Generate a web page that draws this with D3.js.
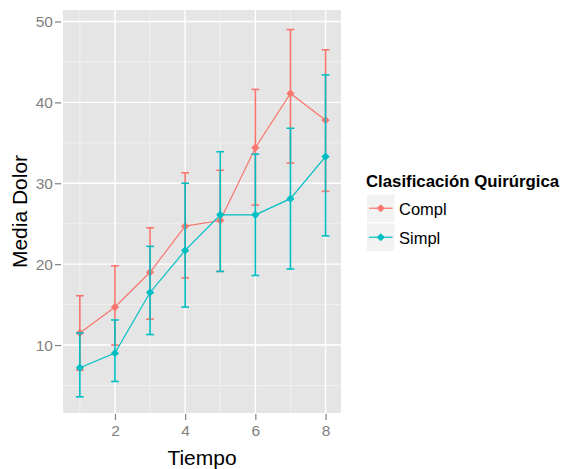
<!DOCTYPE html>
<html>
<head>
<meta charset="utf-8">
<script src="https://cdn.jsdelivr.net/npm/d3@7"></script>
<style>
  body { margin: 0; background: #fff; }
  svg { display: block; font-family: "Liberation Sans", Arial, sans-serif; }
</style>
</head>
<body>
<svg id="chart" width="564" height="469"></svg>
<script>
// Mean pain score over time by surgical classification, with error bars
const tiempo = [1, 2, 3, 4, 5, 6, 7, 8];
const groups = ["Compl", "Simpl"];
const complMean  = [11.5, 14.7, 19.0, 24.7, 25.4, 34.4, 41.1, 37.8];
const complLow   = [6.9, 10.0, 13.2, 18.3, 19.1, 27.3, 32.5, 29.0];
const complHigh  = [16.1, 19.8, 24.5, 31.3, 31.6, 41.6, 49.0, 46.5];
const simplMean  = [7.2, 9.0, 16.5, 21.7, 26.1, 26.1, 28.1, 33.3];
const simplLow   = [3.6, 5.5, 11.3, 14.7, 19.1, 18.6, 19.4, 23.5];
const simplHigh  = [11.5, 13.1, 22.2, 30.0, 33.9, 33.6, 36.8, 43.4];
const xTicks = [2, 4, 6, 8];
const yTicks = [10, 20, 30, 40, 50];
const colors = ["#F8766D", "#00BFC4"];

const series = [
  { name: groups[0], color: colors[0], mean: complMean, low: complLow, high: complHigh },
  { name: groups[1], color: colors[1], mean: simplMean, low: simplLow, high: simplHigh }
];

const svg = d3.select("#chart");
const panel = { left: 63, top: 10, right: 341, bottom: 413 };

const x = d3.scaleLinear().domain([0.52, 8.44]).range([panel.left, panel.right]);
const y = d3.scaleLinear().domain([1.6, 51.42]).range([panel.bottom, panel.top]);

// panel background
svg.append("rect")
  .attr("x", panel.left).attr("y", panel.top)
  .attr("width", panel.right - panel.left).attr("height", panel.bottom - panel.top)
  .attr("fill", "#E5E5E5");

// minor grid
const xMinor = [1, 3, 5, 7];
const yMinor = [5, 15, 25, 35, 45];
const grid = svg.append("g");
grid.selectAll(".xmin").data(xMinor).join("line")
  .attr("x1", d => x(d)).attr("x2", d => x(d))
  .attr("y1", panel.top).attr("y2", panel.bottom)
  .attr("stroke", "#F2F2F2").attr("stroke-width", 0.8);
grid.selectAll(".ymin").data(yMinor).join("line")
  .attr("y1", d => y(d)).attr("y2", d => y(d))
  .attr("x1", panel.left).attr("x2", panel.right)
  .attr("stroke", "#F2F2F2").attr("stroke-width", 0.8);
// major grid
grid.selectAll(".xmaj").data(xTicks).join("line")
  .attr("x1", d => x(d)).attr("x2", d => x(d))
  .attr("y1", panel.top).attr("y2", panel.bottom)
  .attr("stroke", "#FFFFFF").attr("stroke-width", 1.4);
grid.selectAll(".ymaj").data(yTicks).join("line")
  .attr("y1", d => y(d)).attr("y2", d => y(d))
  .attr("x1", panel.left).attr("x2", panel.right)
  .attr("stroke", "#FFFFFF").attr("stroke-width", 1.4);

// axes
const xAxis = svg.append("g")
  .attr("transform", `translate(0,${panel.bottom})`)
  .call(d3.axisBottom(x).tickValues(xTicks).tickFormat(d3.format("d")).tickSize(6).tickPadding(6));
const yAxis = svg.append("g")
  .attr("transform", `translate(${panel.left},0)`)
  .call(d3.axisLeft(y).tickValues(yTicks).tickFormat(d3.format("d")).tickSize(6).tickPadding(4));
[xAxis, yAxis].forEach(a => {
  a.select(".domain").remove();
  a.selectAll(".tick line").attr("stroke", "#7F7F7F").attr("stroke-width", 1.2);
  a.selectAll(".tick text").attr("fill", "#7F7F7F").attr("font-size", 15.5)
    .attr("font-family", "Liberation Sans, Arial, sans-serif");
});
yAxis.selectAll(".tick line").attr("x1", -8).attr("x2", -2);
xAxis.selectAll(".tick line").attr("y1", 1).attr("y2", 7);

// axis titles
svg.append("text")
  .attr("x", (panel.left + panel.right) / 2).attr("y", 465)
  .attr("text-anchor", "middle").attr("font-size", 21).attr("fill", "#000")
  .text("Tiempo");
svg.append("text")
  .attr("transform", `translate(27,${(panel.top + panel.bottom) / 2}) rotate(-90)`)
  .attr("text-anchor", "middle").attr("font-size", 21).attr("fill", "#000")
  .text("Media Dolor");

// data marks
const capHalf = 0.11;
const diamond = d3.symbol().type(d3.symbolSquare).size(34);
const plot = svg.append("g");
series.forEach(s => {
  const g = plot.append("g");
  const rows = tiempo.map((t, i) => ({ t, m: s.mean[i], lo: s.low[i], hi: s.high[i] }));
  // error bars
  const eb = g.selectAll(".eb").data(rows).join("g").attr("stroke", s.color)
    .attr("stroke-width", 1.6);
  eb.append("line").attr("x1", d => x(d.t)).attr("x2", d => x(d.t))
    .attr("y1", d => y(d.lo)).attr("y2", d => y(d.hi));
  eb.append("line").attr("x1", d => x(d.t - capHalf)).attr("x2", d => x(d.t + capHalf))
    .attr("y1", d => y(d.lo)).attr("y2", d => y(d.lo));
  eb.append("line").attr("x1", d => x(d.t - capHalf)).attr("x2", d => x(d.t + capHalf))
    .attr("y1", d => y(d.hi)).attr("y2", d => y(d.hi));
  // line
  g.append("path").datum(rows)
    .attr("d", d3.line().x(d => x(d.t)).y(d => y(d.m)))
    .attr("fill", "none").attr("stroke", s.color).attr("stroke-width", 1.2);
  // diamond points
  g.selectAll(".pt").data(rows).join("path")
    .attr("d", diamond)
    .attr("transform", d => `translate(${x(d.t)},${y(d.m)}) rotate(45)`)
    .attr("fill", s.color);
});

// legend
const lg = svg.append("g");
lg.append("text").attr("x", 366).attr("y", 187)
  .attr("font-size", 16.8).attr("font-weight", "bold").attr("fill", "#000")
  .text("Clasificación Quirúrgica");
series.forEach((s, i) => {
  const ky = 194 + i * 29;
  lg.append("rect").attr("x", 366.5).attr("y", ky).attr("width", 28.5).attr("height", 28.5)
    .attr("fill", "#F2F2F2").attr("stroke", "#FFFFFF").attr("stroke-width", 1);
  lg.append("line").attr("x1", 369).attr("x2", 392.5)
    .attr("y1", ky + 14.25).attr("y2", ky + 14.25)
    .attr("stroke", s.color).attr("stroke-width", 1.2);
  lg.append("path").attr("d", diamond)
    .attr("transform", `translate(380.75,${ky + 14.25}) rotate(45)`)
    .attr("fill", s.color);
  lg.append("text").attr("x", 399).attr("y", ky + 21)
    .attr("font-size", 16.5).attr("fill", "#000").text(s.name);
});
</script>
</body>
</html>
